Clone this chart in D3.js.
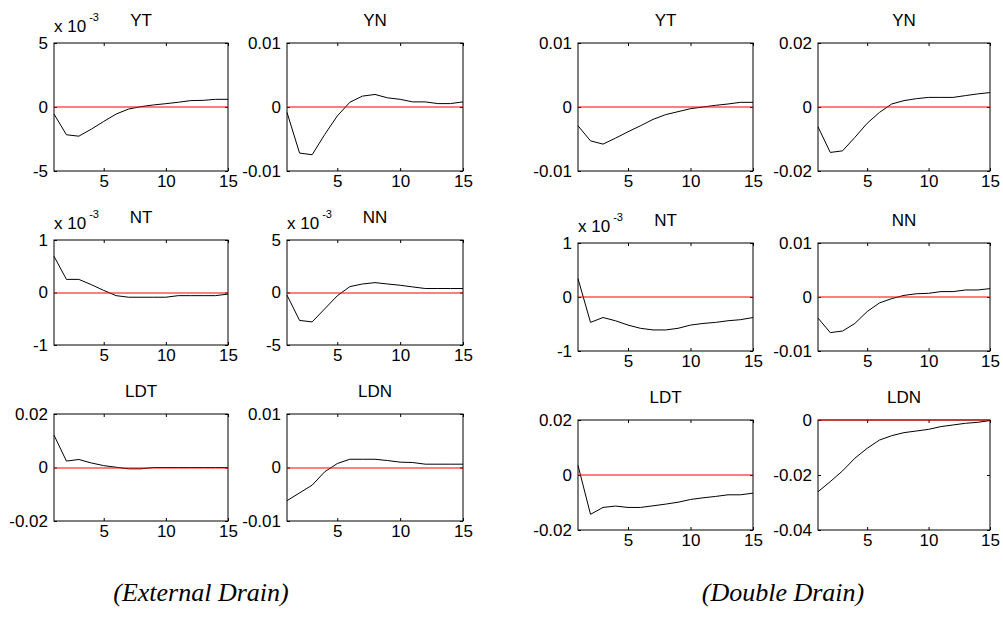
<!DOCTYPE html>
<meta charset="utf-8">
<style>

body {
  margin: 0;
  background: #fff;
}

svg {
  display: block;
}

.panel text {
  font-family: "Liberation Sans", Arial, sans-serif;
  font-size: 17px;
  fill: #000;
}

.frame {
  fill: none;
  stroke: #000;
  stroke-width: 1px;
}

.zero {
  stroke: #f00;
  stroke-width: 1.2px;
}

.irf {
  fill: none;
  stroke: #000;
  stroke-width: 1px;
}

.caption {
  font-family: "Liberation Serif", "Times New Roman", serif;
  font-style: italic;
  font-size: 26px;
}

</style>
<body>
<svg width="1003" height="633"></svg>
<script src="https://d3js.org/d3.v7.min.js"></script>
<script>

// horizon (quarters)
var periods = [1, 2, 3, 4, 5, 6, 7, 8, 9, 10, 11, 12, 13, 14, 15];
var xTicks = [5, 10, 15];

// External drain responses
var extYT  = [-0.55e-3, -2.17e-3, -2.28e-3, -1.73e-3, -1.13e-3, -0.55e-3, -0.16e-3, 0.03e-3, 0.16e-3, 0.26e-3, 0.37e-3, 0.50e-3, 0.52e-3, 0.60e-3, 0.60e-3];
var extYN  = [-0.85e-3, -7.2e-3, -7.46e-3, -4.3e-3, -1.4e-3, 0.74e-3, 1.7e-3, 1.96e-3, 1.43e-3, 1.2e-3, 0.8e-3, 0.8e-3, 0.53e-3, 0.53e-3, 0.8e-3];
var extNT  = [0.69e-3, 0.25e-3, 0.25e-3, 0.15e-3, 0.04e-3, -0.06e-3, -0.09e-3, -0.09e-3, -0.09e-3, -0.09e-3, -0.06e-3, -0.06e-3, -0.06e-3, -0.06e-3, -0.03e-3];
var extNN  = [-0.25e-3, -2.66e-3, -2.8e-3, -1.56e-3, -0.31e-3, 0.56e-3, 0.81e-3, 0.94e-3, 0.81e-3, 0.69e-3, 0.53e-3, 0.38e-3, 0.38e-3, 0.38e-3, 0.38e-3];
var extLDT = [12.1e-3, 2.4e-3, 3.0e-3, 1.7e-3, 0.7e-3, 0.1e-3, -0.5e-3, -0.5e-3, 0, 0, 0, 0, 0, 0, 0];
var extLDN = [-6.2e-3, -4.75e-3, -3.3e-3, -0.8e-3, 0.74e-3, 1.54e-3, 1.54e-3, 1.54e-3, 1.3e-3, 1.0e-3, 0.93e-3, 0.62e-3, 0.62e-3, 0.62e-3, 0.62e-3];

// Double drain responses
var dblYT  = [-2.93e-3, -5.29e-3, -5.8e-3, -4.87e-3, -3.87e-3, -2.93e-3, -1.94e-3, -1.2e-3, -0.73e-3, -0.26e-3, 0, 0.26e-3, 0.47e-3, 0.73e-3, 0.73e-3];
var dblYN  = [-6.2e-3, -14.2e-3, -13.7e-3, -9.5e-3, -5.1e-3, -1.7e-3, 0.94e-3, 2.0e-3, 2.6e-3, 3.0e-3, 3.0e-3, 3.0e-3, 3.56e-3, 4.1e-3, 4.5e-3];
var dblNT  = [0.34e-3, -0.47e-3, -0.38e-3, -0.44e-3, -0.52e-3, -0.58e-3, -0.61e-3, -0.61e-3, -0.58e-3, -0.52e-3, -0.49e-3, -0.47e-3, -0.44e-3, -0.42e-3, -0.38e-3];
var dblNN  = [-3.9e-3, -6.6e-3, -6.3e-3, -4.9e-3, -2.7e-3, -1.1e-3, -0.3e-3, 0.3e-3, 0.6e-3, 0.68e-3, 1.0e-3, 1.0e-3, 1.3e-3, 1.3e-3, 1.55e-3];
var dblLDT = [3.5e-3, -14.3e-3, -11.8e-3, -11.3e-3, -11.8e-3, -11.8e-3, -11.2e-3, -10.6e-3, -9.9e-3, -8.9e-3, -8.3e-3, -7.8e-3, -7.2e-3, -7.2e-3, -6.6e-3];
var dblLDN = [-26.1e-3, -22.4e-3, -18.5e-3, -13.9e-3, -10.3e-3, -7.3e-3, -5.7e-3, -4.6e-3, -4.0e-3, -3.4e-3, -2.4e-3, -1.8e-3, -1.2e-3, -0.85e-3, -0.2e-3];

// y tick labels per panel
var ticks5m  = [-5e-3, 0, 5e-3];
var ticks1m  = [-1e-3, 0, 1e-3];
var ticks01  = [-0.01, 0, 0.01];
var ticks02  = [-0.02, 0, 0.02];
var ticks04  = [-0.04, -0.02, 0];

var captions = ["(External Drain)", "(Double Drain)"];

var panels = [
  {title: "YT",  values: extYT,  ticks: ticks5m, mult: true,  x: 54,  y: 43,  w: 174, h: 128},
  {title: "YN",  values: extYN,  ticks: ticks01, mult: false, x: 287, y: 43,  w: 176, h: 128},
  {title: "NT",  values: extNT,  ticks: ticks1m, mult: true,  x: 54,  y: 240, w: 174, h: 105},
  {title: "NN",  values: extNN,  ticks: ticks5m, mult: true,  x: 287, y: 240, w: 176, h: 105},
  {title: "LDT", values: extLDT, ticks: ticks02, mult: false, x: 54,  y: 414, w: 174, h: 107},
  {title: "LDN", values: extLDN, ticks: ticks01, mult: false, x: 287, y: 414, w: 176, h: 107},
  {title: "YT",  values: dblYT,  ticks: ticks01, mult: false, x: 578, y: 43,  w: 175, h: 128},
  {title: "YN",  values: dblYN,  ticks: ticks02, mult: false, x: 818, y: 43,  w: 172, h: 128},
  {title: "NT",  values: dblNT,  ticks: ticks1m, mult: true,  x: 578, y: 243, w: 175, h: 108},
  {title: "NN",  values: dblNN,  ticks: ticks01, mult: false, x: 818, y: 243, w: 172, h: 108},
  {title: "LDT", values: dblLDT, ticks: ticks02, mult: false, x: 578, y: 420, w: 175, h: 110},
  {title: "LDN", values: dblLDN, ticks: ticks04, mult: false, x: 818, y: 420, w: 172, h: 110}
];

var svg = d3.select("svg");

panels.forEach(function(p) {
  var x = d3.scaleLinear().domain([1, 15]).range([p.x, p.x + p.w]);
  var y = d3.scaleLinear().domain(d3.extent(p.ticks)).range([p.y + p.h, p.y]);

  var fmt = p.mult
    ? function(d) { return String(Math.round(d / 1e-3)); }
    : function(d) { return String(d); };

  var g = svg.append("g").attr("class", "panel");

  // axes, matlab style: ticks pointing in on all four sides
  g.append("g")
      .attr("transform", "translate(0," + (p.y + p.h) + ")")
      .call(d3.axisBottom(x).tickValues(xTicks).tickSize(-3).tickPadding(4))
      .call(function(a) { a.select(".domain").remove(); });

  g.append("g")
      .attr("transform", "translate(0," + p.y + ")")
      .call(d3.axisTop(x).tickValues(xTicks).tickSize(-3).tickFormat(""))
      .call(function(a) { a.select(".domain").remove(); });

  g.append("g")
      .attr("transform", "translate(" + p.x + ",0)")
      .call(d3.axisLeft(y).tickValues(p.ticks).tickSize(-3).tickPadding(6).tickFormat(fmt))
      .call(function(a) { a.select(".domain").remove(); });

  g.append("g")
      .attr("transform", "translate(" + (p.x + p.w) + ",0)")
      .call(d3.axisRight(y).tickValues(p.ticks).tickSize(-3).tickFormat(""))
      .call(function(a) { a.select(".domain").remove(); });

  g.selectAll(".tick text").style("font-size", "17px").attr("fill", "#000");

  // response line
  var line = d3.line()
      .x(function(d, i) { return x(periods[i]); })
      .y(function(d) { return y(d); });

  g.append("path")
      .datum(p.values)
      .attr("class", "irf")
      .attr("d", line);

  g.append("rect")
      .attr("class", "frame")
      .attr("x", p.x).attr("y", p.y)
      .attr("width", p.w).attr("height", p.h);

  // zero reference line, drawn over the response
  var y0 = Math.round(y(0));
  g.append("line")
      .attr("class", "zero")
      .attr("x1", x(1)).attr("x2", x(15))
      .attr("y1", y0).attr("y2", y0);

  // title
  g.append("text")
      .attr("x", p.x + p.w / 2)
      .attr("y", p.y - 17)
      .attr("text-anchor", "middle")
      .text(p.title);

  // exponent label
  if (p.mult) {
    var t = g.append("text")
        .attr("x", p.x)
        .attr("y", p.y - 11)
        .text("x 10");
    t.append("tspan")
        .attr("dx", 3)
        .attr("dy", -11)
        .style("font-size", "11px")
        .text("-3");
  }
});

svg.selectAll(".caption")
    .data(captions)
  .enter().append("text")
    .attr("class", "caption")
    .attr("x", function(d, i) { return i === 0 ? 201 : 783; })
    .attr("y", 601)
    .attr("text-anchor", "middle")
    .text(function(d) { return d; });

</script>
